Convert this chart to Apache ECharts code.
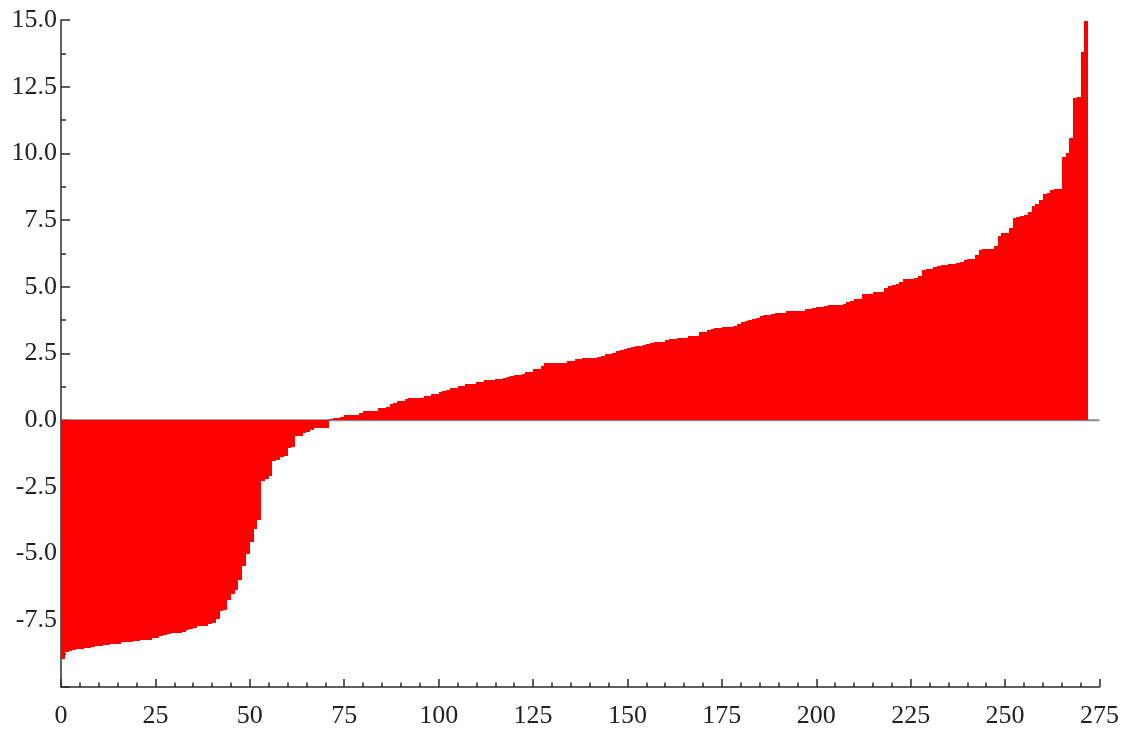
<!DOCTYPE html>
<html>
<head>
<meta charset="utf-8">
<script src="https://cdn.jsdelivr.net/npm/echarts@6/dist/echarts.min.js"></script>
<style>
html,body{margin:0;padding:0;background:#fff;}
#chart{width:1122px;height:732px;}
</style>
</head>
<body>
<div id="chart"></div>
<script>
// sorted values, one per unit-wide bar starting at x = 0
var values = [
-8.95,-8.67,-8.65,-8.63,-8.58,-8.56,-8.55,-8.53,-8.51,-8.47,
-8.45,-8.44,-8.41,-8.40,-8.39,-8.38,-8.33,-8.32,-8.31,-8.27,
-8.26,-8.25,-8.24,-8.23,-8.18,-8.16,-8.07,-8.05,-8.03,-7.98,
-7.97,-7.96,-7.95,-7.87,-7.81,-7.79,-7.73,-7.71,-7.70,-7.62,
-7.60,-7.44,-7.14,-7.10,-6.75,-6.50,-6.37,-6.00,-5.45,-5.00,
-4.56,-4.06,-3.75,-2.27,-2.20,-2.10,-1.52,-1.50,-1.38,-1.36,
-1.03,-1.01,-0.60,-0.58,-0.47,-0.46,-0.37,-0.31,-0.30,-0.29,
-0.28,
0.03,0.08,0.10,0.12,0.18,0.19,0.20,0.21,0.27,0.33,
0.34,0.35,0.36,0.46,0.47,0.49,0.61,0.63,0.71,0.72,
0.81,0.82,0.83,0.84,0.85,0.91,0.92,0.98,0.99,1.04,
1.11,1.12,1.20,1.22,1.27,1.28,1.34,1.35,1.36,1.42,
1.43,1.49,1.50,1.51,1.55,1.56,1.57,1.63,1.64,1.70,
1.71,1.72,1.79,1.81,1.91,1.93,2.05,2.13,2.14,2.14,
2.15,2.15,2.16,2.21,2.23,2.28,2.29,2.34,2.34,2.35,
2.35,2.36,2.42,2.49,2.50,2.51,2.60,2.64,2.66,2.72,
2.74,2.78,2.79,2.80,2.84,2.91,2.92,2.92,2.93,3.00,
3.06,3.06,3.07,3.07,3.08,3.14,3.15,3.16,3.29,3.31,
3.37,3.43,3.44,3.45,3.50,3.51,3.51,3.52,3.60,3.68,
3.73,3.74,3.80,3.82,3.90,3.95,3.96,3.97,4.01,4.02,
4.03,4.08,4.08,4.09,4.09,4.10,4.15,4.16,4.22,4.23,
4.24,4.29,4.30,4.30,4.31,4.31,4.37,4.44,4.46,4.53,
4.54,4.72,4.73,4.74,4.80,4.81,4.82,4.96,5.03,5.05,
5.12,5.19,5.30,5.31,5.31,5.32,5.40,5.64,5.65,5.66,
5.73,5.79,5.80,5.81,5.86,5.87,5.88,5.93,6.02,6.03,
6.04,6.19,6.39,6.40,6.40,6.41,6.52,6.90,7.01,7.03,
7.19,7.59,7.60,7.67,7.68,7.81,8.04,8.12,8.27,8.49,
8.51,8.64,8.66,8.67,9.85,10.00,10.59,12.08,12.12,13.81,
14.95
];
var xTicks = [0, 25, 50, 75, 100, 125, 150, 175, 200, 225, 250, 275];
var yTicks = [-10, -7.5, -5, -2.5, 0, 2.5, 5, 7.5, 10, 12.5, 15];
var zeroLine = [[0, 0], [275, 0]];

var barData = values.map(function (v, i) { return [i, v]; });

var chart = echarts.init(document.getElementById('chart'));
var axisFont = { fontFamily: 'Liberation Serif', fontSize: 26, color: '#222' };

chart.setOption({
  animation: false,
  backgroundColor: '#fff',
  grid: { left: 61, right: 20, top: 20, bottom: 45, containLabel: false },
  xAxis: {
    type: 'value',
    min: xTicks[0],
    max: xTicks[xTicks.length - 1],
    interval: 25,
    axisLine: { show: true, onZero: false, lineStyle: { color: '#2b2b2b', width: 1.5 } },
    axisTick: { show: true, inside: true, length: 8, lineStyle: { color: '#2b2b2b', width: 1.5 } },
    minorTick: { show: true, splitNumber: 5, length: 4.5, lineStyle: { color: '#2b2b2b', width: 1.5 } },
    splitLine: { show: false },
    axisLabel: Object.assign({ margin: 16 }, axisFont)
  },
  yAxis: {
    type: 'value',
    min: yTicks[0],
    max: yTicks[yTicks.length - 1],
    interval: 2.5,
    axisLine: { show: true, onZero: false, lineStyle: { color: '#2b2b2b', width: 1.5 } },
    axisTick: { show: true, inside: true, length: 9, lineStyle: { color: '#2b2b2b', width: 1.5 } },
    minorTick: { show: true, splitNumber: 2, length: 5, lineStyle: { color: '#2b2b2b', width: 1.5 } },
    splitLine: { show: false },
    axisLabel: Object.assign({
      margin: 4,
      showMinLabel: false,
      formatter: function (v) { return v === yTicks[0] ? '' : v.toFixed(1); }
    }, axisFont)
  },
  series: [
    {
      type: 'line',
      data: zeroLine,
      symbol: 'none',
      silent: true,
      z: 1,
      lineStyle: { color: '#8a8a8a', width: 2 }
    },
    {
      type: 'custom',
      z: 2,
      data: barData,
      renderItem: function (params, api) {
        var i = api.value(0), v = api.value(1);
        var p0 = api.coord([i, 0]);
        var p1 = api.coord([i + 1, v]);
        var x0 = Math.round(p0[0]), x1 = Math.round(p1[0]);
        var ya = Math.round(Math.min(p0[1], p1[1]));
        var yb = Math.round(Math.max(p0[1], p1[1]));
        return {
          type: 'rect',
          shape: { x: x0, y: ya, width: x1 - x0, height: yb - ya },
          style: { fill: '#ff0000', stroke: null }
        };
      }
    }
  ]
});
</script>
</body>
</html>
